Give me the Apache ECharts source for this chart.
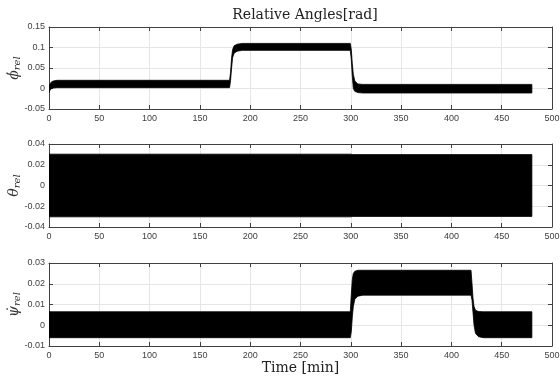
<!DOCTYPE html>
<html>
<head>
<meta charset="utf-8">
<script src="https://cdn.jsdelivr.net/npm/echarts@6.0.0/dist/echarts.min.js"></script>
<style>
  html, body { margin: 0; padding: 0; background: #fff; }
  #main { width: 560px; height: 378px; }
</style>
</head>
<body>
<div id="main"></div>
<script>
// phi_rel envelope (lower / upper edge of the oscillation band)
var phiTime = [0, 1, 2, 4, 8, 179.5, 180.5, 181.5, 182.5, 184, 187, 192, 299.5, 300.5, 301.5, 302.5, 304, 307, 312, 480];
var phiLow  = [-0.010, -0.004, -0.001, 0.001, 0.002, 0.002, 0.020, 0.050, 0.075, 0.086, 0.091, 0.093, 0.093, 0.070, 0.030, 0.000, -0.007, -0.010, -0.011, -0.011];
var phiHigh = [0.004, 0.011, 0.015, 0.018, 0.020, 0.020, 0.040, 0.075, 0.095, 0.104, 0.108, 0.110, 0.110, 0.095, 0.060, 0.035, 0.018, 0.011, 0.010, 0.010];

// theta_rel envelope
var thetaTime = [0, 300, 302, 480];
var thetaLow  = [-0.0302, -0.0302, -0.0298, -0.0298];
var thetaHigh = [0.0302, 0.0302, 0.0298, 0.0298];

// psi_rel envelope
var psiTime = [0, 299.5, 300.5, 301.5, 302.5, 304, 307, 312, 419.5, 420.5, 421.5, 422.5, 424, 427, 432, 480];
var psiLow  = [-0.006, -0.006, -0.003, 0.004, 0.009, 0.0125, 0.014, 0.0145, 0.0145, 0.012, 0.006, 0.000, -0.004, -0.0055, -0.006, -0.006];
var psiHigh = [0.0065, 0.0065, 0.015, 0.022, 0.025, 0.026, 0.0265, 0.0265, 0.0265, 0.020, 0.013, 0.009, 0.0072, 0.0066, 0.0065, 0.0065];

// y ranges of the three panels
var yRanges = [
    { min: -0.05, max: 0.15, interval: 0.05 },
    { min: -0.04, max: 0.04, interval: 0.02 },
    { min: -0.01, max: 0.03, interval: 0.01 }
];

var axisColor = '#404040';
var gridColor = '#e6e6e6';
var names = [
    '{g|ϕ̇}{s|rel}',
    '{g|θ}{s|rel}',
    '{g|ψ̇}{s|rel}'
];

var chart = echarts.init(document.getElementById('main'));

var grids = [
    { left: 49, right: 8, top: 27, height: 82, outerBoundsMode: 'none', containLabel: false },
    { left: 49, right: 8, top: 144, height: 83, outerBoundsMode: 'none', containLabel: false },
    { left: 49, right: 8, top: 263, height: 83, outerBoundsMode: 'none', containLabel: false }
];

var xAxes = [];
var yAxes = [];
grids.forEach(function (g, i) {
    xAxes.push({
        type: 'value', gridIndex: i, min: 0, max: 500, interval: 50,
        axisLine: { onZero: false, lineStyle: { color: axisColor, width: 1 } },
        axisTick: { inside: true, length: 4, lineStyle: { color: axisColor } },
        axisLabel: { color: axisColor, fontSize: 9, fontFamily: 'Liberation Sans', margin: 5 },
        splitLine: { show: true, lineStyle: { color: gridColor, width: 1 } },
        name: i === 2 ? 'Time [min]' : '',
        nameLocation: 'middle',
        nameGap: 15,
        nameMoveOverlap: false,
        nameTextStyle: { fontFamily: 'DejaVu Serif', fontSize: 14, color: '#222' }
    });
    xAxes.push({
        type: 'value', gridIndex: i, min: 0, max: 500, interval: 50, position: 'top',
        axisLine: { onZero: false, lineStyle: { color: axisColor, width: 1 } },
        axisTick: { inside: true, length: 4, lineStyle: { color: axisColor } },
        axisLabel: { show: false },
        splitLine: { show: false }
    });
    var r = yRanges[i];
    yAxes.push({
        type: 'value', gridIndex: i, min: r.min, max: r.max, interval: r.interval,
        axisLine: { show: true, onZero: false, lineStyle: { color: axisColor, width: 1 } },
        axisTick: { show: true, inside: true, length: 4, lineStyle: { color: axisColor } },
        axisLabel: { color: axisColor, fontSize: 9, fontFamily: 'Liberation Sans', margin: 4 },
        splitLine: { show: true, lineStyle: { color: gridColor, width: 1 } },
        name: names[i],
        nameLocation: 'middle',
        nameGap: 27,
        nameMoveOverlap: false,
        nameTextStyle: {
            color: '#333',
            rich: {
                g: { fontFamily: 'DejaVu Serif', fontStyle: 'italic', fontSize: 14, color: '#333' },
                s: { fontFamily: 'DejaVu Serif', fontStyle: 'italic', fontSize: 10, color: '#333', padding: [6, 0, 0, 0] }
            }
        }
    });
    yAxes.push({
        type: 'value', gridIndex: i, min: r.min, max: r.max, interval: r.interval, position: 'right',
        axisLine: { show: true, onZero: false, lineStyle: { color: axisColor, width: 1 } },
        axisTick: { show: true, inside: true, length: 4, lineStyle: { color: axisColor } },
        axisLabel: { show: false },
        splitLine: { show: false }
    });
});

// filled band between the lower and upper envelope, drawn once as a polygon
function band(i, time, low, high) {
    return {
        type: 'custom',
        xAxisIndex: i * 2,
        yAxisIndex: i * 2,
        silent: true,
        clip: true,
        data: time.map(function (t, k) { return [t, low[k], high[k]]; }),
        renderItem: function (params, api) {
            if (params.dataIndex !== 0) return null;
            var pts = [];
            for (var k = 0; k < time.length; k++) pts.push(api.coord([time[k], high[k]]));
            for (var k2 = time.length - 1; k2 >= 0; k2--) pts.push(api.coord([time[k2], low[k2]]));
            return {
                type: 'polygon',
                shape: { points: pts },
                style: { fill: '#000', stroke: '#000', lineWidth: 0.8 }
            };
        },
        encode: { x: 0, y: [1, 2] }
    };
}

chart.setOption({
    animation: false,
    backgroundColor: '#fff',
    title: {
        text: 'Relative Angles[rad]',
        left: 300,
        top: 3,
        textAlign: 'center',
        textStyle: { fontFamily: 'DejaVu Serif', fontSize: 14, fontWeight: 'normal', color: '#222' }
    },
    grid: grids,
    xAxis: xAxes,
    yAxis: yAxes,
    series: [
        band(0, phiTime, phiLow, phiHigh),
        band(1, thetaTime, thetaLow, thetaHigh),
        band(2, psiTime, psiLow, psiHigh)
    ]
});

window.onresize = chart.resize;
</script>
</body>
</html>
